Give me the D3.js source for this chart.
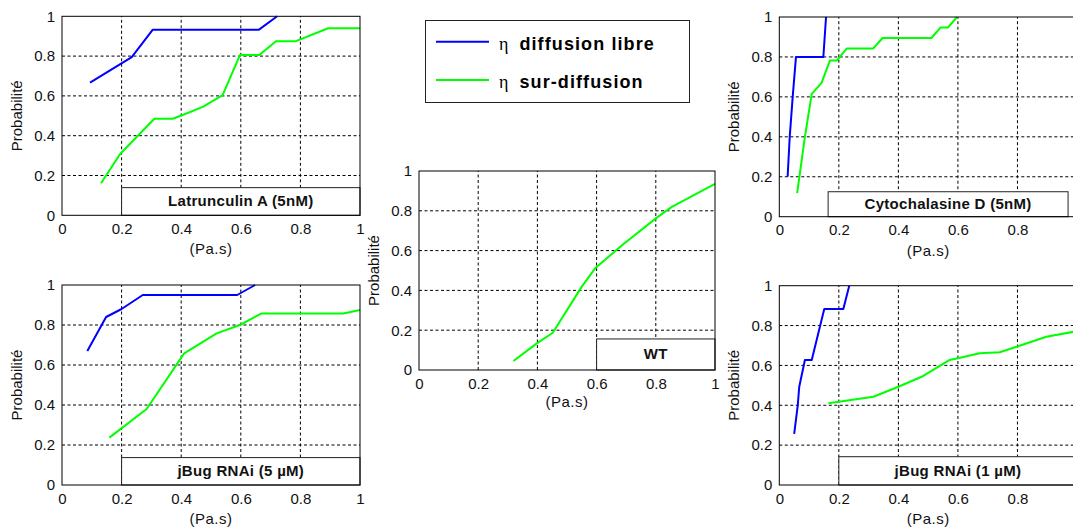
<!DOCTYPE html>
<html>
<head>
<meta charset="utf-8">
<script src="https://cdn.jsdelivr.net/npm/d3@7"></script>
<style>
  html, body { margin: 0; padding: 0; background: #fff; }
  svg { display: block; }
  text { font-family: "Liberation Sans", Arial, Helvetica, sans-serif; }
</style>
</head>
<body>
<svg id="chart" width="1073" height="527"></svg>
<script>
// Cumulative probability of viscosity (Pa.s), per condition.
// Each point: [viscosity, probability]
const latrunculinLibre = [[0.094,0.667],[0.234,0.795],[0.304,0.932],[0.660,0.932],[0.722,1.0]];
const latrunculinSur = [[0.131,0.161],[0.195,0.308],[0.310,0.485],[0.371,0.485],[0.405,0.504],[0.474,0.546],
  [0.539,0.604],[0.597,0.805],[0.662,0.805],[0.718,0.875],[0.785,0.875],[0.893,0.940],[1.0,0.940]];

const jbug5Libre = [[0.085,0.67],[0.148,0.84],[0.20,0.88],[0.271,0.95],[0.588,0.95],[0.648,1.0]];
const jbug5Sur = [[0.159,0.237],[0.284,0.38],[0.41,0.658],[0.519,0.758],[0.597,0.80],[0.67,0.858],[0.944,0.858],[1.0,0.875]];

const wtSur = [[0.319,0.045],[0.398,0.134],[0.452,0.187],[0.55,0.419],[0.595,0.511],[0.69,0.632],[0.80,0.762],[0.854,0.82],[1.0,0.935]];

const cytoLibre = [[0.028,0.2],[0.035,0.4],[0.045,0.6],[0.056,0.8],[0.148,0.8],[0.157,1.0]];
const cytoSur = [[0.06,0.118],[0.086,0.4],[0.109,0.615],[0.142,0.67],[0.17,0.782],[0.193,0.782],[0.226,0.842],
  [0.315,0.842],[0.347,0.895],[0.511,0.895],[0.542,0.948],[0.567,0.948],[0.597,1.0]];

const jbug1Libre = [[0.05,0.256],[0.062,0.40],[0.067,0.493],[0.086,0.627],[0.109,0.627],[0.151,0.883],[0.215,0.883],[0.235,1.0]];
const jbug1Sur = [[0.165,0.41],[0.2,0.418],[0.316,0.443],[0.4,0.493],[0.478,0.543],[0.571,0.627],[0.6,0.636],
  [0.673,0.661],[0.74,0.666],[0.797,0.694],[0.897,0.744],[1.0,0.772]];

const conditionNames = ["Latrunculin A (5nM)", "jBug RNAi (5 µM)", "WT", "Cytochalasine D (5nM)", "jBug RNAi (1 µM)"];
const tickValues = [0, 0.2, 0.4, 0.6, 0.8, 1];
const tickLabels = ["0", "0.2", "0.4", "0.6", "0.8", "1"];
const seriesNames = ["diffusion libre", "sur-diffusion"];
const seriesColors = ["#0000ff", "#00ff00"];

const WIDTH = 1073;

// Panel frames in pixels, and the annotation box extent in data units
const panels = [
  { name: conditionNames[0], left: 62,    right: 360,  bottom: 215.3, top: 16.3, titleGap: 35, libre: latrunculinLibre, sur: latrunculinSur, box: [0.2, 1.0, 0.139] },
  { name: conditionNames[1], left: 62,    right: 360,  bottom: 485,   top: 285,  titleGap: 35, libre: jbug5Libre,       sur: jbug5Sur,       box: [0.2, 1.0, 0.137] },
  { name: conditionNames[2], left: 419,   right: 715,  bottom: 370,   top: 171,  titleGap: 33, libre: null,             sur: wtSur,          box: [0.6, 1.0, 0.156] },
  { name: conditionNames[3], left: 779.3, right: 1077, bottom: 216.7, top: 17,   titleGap: 35, libre: cytoLibre,        sur: cytoSur,        box: [0.164, 0.97, 0.125] },
  { name: conditionNames[4], left: 779.3, right: 1077, bottom: 485,   top: 285.7,titleGap: 35, libre: jbug1Libre,       sur: jbug1Sur,       box: [0.2, 1.0, 0.142] }
];

const svg = d3.select("#chart");

panels.forEach(p => {
  const x = d3.scaleLinear().domain([0, 1]).range([p.left, p.right]);
  const y = d3.scaleLinear().domain([0, 1]).range([p.bottom, p.top]);
  const g = svg.append("g");

  // white plot background
  g.append("rect")
    .attr("x", p.left).attr("y", p.top)
    .attr("width", p.right - p.left).attr("height", p.bottom - p.top)
    .attr("fill", "#fff");

  // dashed grid
  const inner = tickValues.slice(1, -1);
  g.selectAll(".gx").data(inner).enter().append("line")
    .attr("x1", d => x(d)).attr("x2", d => x(d))
    .attr("y1", p.bottom).attr("y2", p.top)
    .attr("stroke", "#000").attr("stroke-width", 1).attr("stroke-dasharray", "3,2.5");
  g.selectAll(".gy").data(inner).enter().append("line")
    .attr("x1", p.left).attr("x2", p.right)
    .attr("y1", d => y(d)).attr("y2", d => y(d))
    .attr("stroke", "#000").attr("stroke-width", 1).attr("stroke-dasharray", "3,2.5");

  // tick labels via d3 axes (x labels that fall past the page edge are not drawn)
  const fmt = d => tickLabels[tickValues.indexOf(d)];
  const xTicks = tickValues.filter(v => x(v) + 4 < WIDTH);
  const xAxis = g.append("g")
    .attr("transform", `translate(0,${p.bottom})`)
    .call(d3.axisBottom(x).tickValues(xTicks).tickFormat(fmt).tickSize(0).tickPadding(8));
  const yAxis = g.append("g")
    .attr("transform", `translate(${p.left},0)`)
    .call(d3.axisLeft(y).tickValues(tickValues).tickFormat(fmt).tickSize(0).tickPadding(7));
  [xAxis, yAxis].forEach(a => {
    a.select(".domain").remove();
    a.selectAll("text")
      .attr("font-family", "'Liberation Sans', Arial, sans-serif")
      .attr("font-size", 15).attr("fill", "#111");
  });

  // axis titles
  g.append("text")
    .attr("x", (p.left + p.right) / 2)
    .attr("y", p.bottom + p.titleGap)
    .attr("text-anchor", "middle").attr("dominant-baseline", "middle")
    .attr("font-size", 15).attr("letter-spacing", 0.5).attr("fill", "#111")
    .text("(Pa.s)");
  g.append("text")
    .attr("transform", `translate(${p.left - 44},${(p.top + p.bottom) / 2}) rotate(-90)`)
    .attr("text-anchor", "middle").attr("dominant-baseline", "middle")
    .attr("font-size", 15).attr("fill", "#111")
    .text("Probabilité");

  // annotation box with condition name
  const bx0 = x(p.box[0]), bx1 = x(p.box[1]), by = y(p.box[2]);
  g.append("rect")
    .attr("x", bx0).attr("y", by)
    .attr("width", bx1 - bx0).attr("height", p.bottom - by)
    .attr("fill", "#fff").attr("stroke", "#222").attr("stroke-width", 1);
  g.append("text")
    .attr("x", (bx0 + Math.min(bx1, p.right)) / 2)
    .attr("y", (by + p.bottom) / 2 + 1)
    .attr("text-anchor", "middle").attr("dominant-baseline", "middle")
    .attr("font-size", 15).attr("font-weight", "bold").attr("letter-spacing", 0.3).attr("fill", "#111")
    .text(p.name);

  // curves
  const line = d3.line().x(d => x(d[0])).y(d => y(d[1]));
  [p.libre, p.sur].forEach((series, i) => {
    if (!series) return;
    g.append("path")
      .datum(series)
      .attr("d", line)
      .attr("fill", "none")
      .attr("stroke", seriesColors[i])
      .attr("stroke-width", 2)
      .attr("stroke-linejoin", "round");
  });

  // frame
  g.append("rect")
    .attr("x", p.left).attr("y", p.top)
    .attr("width", p.right - p.left).attr("height", p.bottom - p.top)
    .attr("fill", "none").attr("stroke", "#000").attr("stroke-width", 1);
});

// legend
const legend = svg.append("g");
legend.append("rect")
  .attr("x", 425.5).attr("y", 20.5).attr("width", 264).attr("height", 82)
  .attr("fill", "#fff").attr("stroke", "#222").attr("stroke-width", 1);
const legendY = d3.scalePoint().domain(seriesNames).range([41.7, 80]);
seriesNames.forEach((name, i) => {
  const ly = legendY(name);
  legend.append("line")
    .attr("x1", 436).attr("x2", 489).attr("y1", ly).attr("y2", ly)
    .attr("stroke", seriesColors[i]).attr("stroke-width", 2);
  const t = legend.append("text")
    .attr("x", 499).attr("y", ly + 8)
    .attr("fill", "#000");
  t.append("tspan")
    .attr("font-family", "'Liberation Serif', 'Times New Roman', serif")
    .attr("font-size", 18)
    .text("η");
  t.append("tspan")
    .attr("dx", 11)
    .attr("font-size", 18).attr("font-weight", "bold").attr("letter-spacing", 1.1)
    .text(name);
});
</script>
</body>
</html>
